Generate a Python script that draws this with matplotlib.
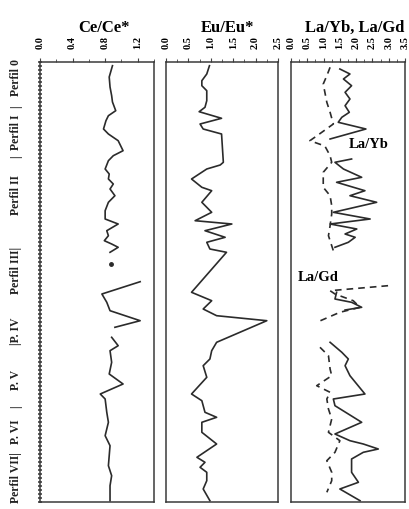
import numpy as np
import matplotlib
matplotlib.use("Agg")
import matplotlib.pyplot as plt
from matplotlib.ticker import MultipleLocator, FixedLocator

plt.rcParams['font.family'] = ['Liberation Serif', 'DejaVu Serif']
plt.rcParams['font.weight'] = 'bold'

nan = np.nan

# depth (relative position down the section) and ratio values, NaN = gap
ce_depth = [3.7, 15, 25, 33.7, 40, 48.7, 53.7, 58.7, 67, 72, 78.7, 88.7, 93.7, 98.7,
            107, 112, 117, 122, 127, 133.7, 140.3, 148.7, 157, 162, 168.7, 173.7,
            178.7, 182, 185.3, 190.3, nan,
            219.7, 232, 240.3, 248.7, 258.7, 265.3, nan,
            275.3, 283.7, 288.7, 300.3, 312, 322, 332, 337, 350.3, 360.3, 373.7,
            383.7, 393.7, 403.7, 413.7, 423.7, 438.7]
ce_val = [0.89, 0.85, 0.86, 0.88, 0.89, 0.93, 0.84, 0.81, 0.78, 0.84, 0.96, 1.02, 0.90, 0.84,
          0.80, 0.85, 0.84, 0.90, 0.86, 0.92, 0.84, 0.80, 0.80, 0.96, 0.82, 0.84,
          0.79, 0.88, 0.96, 0.86, nan,
          1.23, 0.76, 0.82, 0.86, 1.23, 0.92, nan,
          0.88, 0.96, 0.86, 0.88, 0.85, 1.02, 0.74, 0.80, 0.82, 0.84, 0.80,
          0.86, 0.85, 0.84, 0.88, 0.86, 0.86]
ce_dot_depth = [202]
ce_dot_val = [0.87]

eu_depth = [3.7, 12, 18.7, 23.7, 28.7, 38.7, 45.3, 49.7, 56.3, 62, 67, 72, 100.3, 103,
            107, 117, 125.3, 128.7, 140.3, 150.3, 158.7, 162, 168.7, 175.3, 180.3, 187,
            190.3, 230.3, 238.7, 247, 253.7, 258.7, 280.3, 288.7, 297, 303.7, 315.3,
            332, 338.7, 350.3, 355.3, 360.3, 370.3, 382, 395.3, 400.3, 405.3, 410.3,
            418.7, 427, 438.7]
eu_val = [0.97, 0.91, 0.80, 0.80, 0.91, 0.91, 0.87, 0.74, 1.24, 0.76, 0.83, 1.24, 1.28, 1.21,
          0.91, 0.57, 0.80, 1.02, 0.80, 1.02, 0.65, 1.47, 0.87, 1.32, 0.91, 0.98,
          1.35, 0.57, 1.02, 0.83, 1.13, 2.25, 1.13, 1.02, 0.98, 0.83, 0.91,
          0.57, 0.80, 0.87, 1.13, 0.80, 0.80, 1.13, 0.69, 0.87, 0.76, 0.91,
          0.91, 0.83, 0.98]

layb_depth = [7, 12, 17, 23.7, 30.3, 37, 43.7, 50.3, 55.3, 60.3, 67, 77, nan,
              97, 100.3, 107, 115.3, 120.3, 128.7, 133.7, 140.3, 150.3, 157, 162, 167,
              172, 175.3, 180.3, 185.3, nan,
              230.3, 237, 240.3, 245.3, 248, nan,
              280.3, 290.3, 297, 303.7, 313.7, 332, 337, 343.7, 360.3, 372, 378.7,
              382, 387, 390.3, 397, 410.3, 420.3, 427, 438.7]
layb_val = [1.50, 1.81, 1.61, 1.86, 1.66, 1.81, 1.66, 1.79, 1.56, 1.45, 2.30, 1.20, nan,
            1.86, 1.35, 1.61, 2.17, 1.40, 2.27, 1.81, 2.63, 1.30, 2.43, 1.20, 2.02,
            1.66, 1.97, 1.76, 1.35, nan,
            1.40, 1.35, 1.86, 2.17, 1.66, nan,
            1.20, 1.56, 1.76, 1.66, 1.81, 2.27, 1.30, 1.35, 2.17, 1.35, 1.81,
            2.22, 2.68, 2.22, 1.86, 1.86, 2.07, 1.50, 2.12]

lagd_depth = [5.3, 13.7, 22, 30.3, 40.3, 50.3, 62, 73, 78.7, 84, 93.7, 100.3, 110.3,
              125.3, 133.7, 143.7, 152, 163.7, 173.7, 188.7, nan,
              223.7, 228.7, 232, 238.7, 245.3, 250.3, 260.3, nan,
              285.3, 293.7, 307, 313.7, 323.7, 330.3, 337, 347, 357, 370.3, 378.7,
              390.3, 398.7, 410.3, 418.7, 430.3]
lagd_val = [1.20, 1.10, 0.99, 1.04, 1.10, 1.20, 1.30, 0.83, 0.58, 1.04, 1.20, 1.25, 0.99,
            0.99, 1.20, 1.25, 1.25, 1.20, 1.15, 1.30, nan,
            2.98, 1.20, 1.35, 1.91, 2.12, 1.50, 0.79, nan,
            0.89, 1.15, 1.20, 1.25, 0.79, 1.20, 1.10, 1.15, 1.25, 1.15, 1.50,
            1.35, 1.10, 1.25, 1.25, 1.10]

section_labels = ['Perfil 0', '|', 'Perfil I', '|', 'Perfil II', 'Perfil III|',
                  '|P. IV', 'P. V', '|', 'P. VI', 'Perfil VII|']
section_pos = [78, 107, 132, 157, 195, 270, 331, 380, 407, 432, 478]  # pixel rows

W, H = 409, 510
LINE = '#2b2b2b'

fig = plt.figure(figsize=(W / 100, H / 100), dpi=100)

def make_ax(left_px, right_px, xmax, major, minor, title, title_x):
    ax = fig.add_axes([left_px / W, (H - 503) / H, (right_px - left_px) / W, 440 / H])
    ax.set_xlim(0, xmax)
    ax.set_ylim(440, 0)
    ax.xaxis.tick_top()
    ax.xaxis.set_major_locator(MultipleLocator(major))
    ax.xaxis.set_minor_locator(MultipleLocator(minor))
    ax.xaxis.set_major_formatter(plt.FormatStrFormatter('%.1f'))
    ax.tick_params(axis='x', which='both', direction='out', labelrotation=90,
                   labelsize=7.5, pad=7, color='#444444')
    ax.tick_params(axis='x', which='major', length=3)
    ax.tick_params(axis='x', which='minor', length=2)
    for s in ax.spines.values():
        s.set_linewidth(1.1)
        s.set_color('#3a3a3a')
    ax.set_title(title, fontsize=12, fontweight='bold', pad=3, x=title_x)
    return ax

ax1 = make_ax(40, 154, 1.4, 0.4, 0.2, 'Ce/Ce*', 0.56)
ax2 = make_ax(166, 278, 2.5, 0.5, 0.25, 'Eu/Eu*', 0.55)
ax3 = make_ax(291, 405, 3.5, 0.5, 0.25, 'La/Yb, La/Gd', 0.56)
for ax in (ax2, ax3):
    ax.set_yticks([])

# dense depth ticks on the left spine of the first panel
ax1.yaxis.set_major_locator(FixedLocator(np.arange(0, 441, 4)))
ax1.tick_params(axis='y', which='major', direction='inout', length=3.5, width=1.1,
                color='#333333', left=True, right=False, labelleft=False)

ax1.plot(ce_val, ce_depth, color=LINE, lw=1.2)
ax1.plot(ce_dot_val, ce_dot_depth, 'o', color=LINE, ms=2.5)

ax2.plot(eu_val, eu_depth, color=LINE, lw=1.2)

ax3.plot(layb_val, layb_depth, color=LINE, lw=1.2)
ax3.plot(lagd_val, lagd_depth, color=LINE, lw=1.2, linestyle=(0, (4, 3)))
ax3.text(2.4, 82, 'La/Yb', fontsize=10.5, fontweight='bold', ha='center', va='center')
ax3.text(0.22, 215, 'La/Gd', fontsize=10.5, fontweight='bold', ha='left', va='center')

for lab, yp in zip(section_labels, section_pos):
    fig.text(16 / W, (H - yp) / H, lab, rotation=90, fontsize=8.5, fontweight='bold',
             ha='center', va='center', color='#222222')

fig.savefig('out.png', dpi=100)
